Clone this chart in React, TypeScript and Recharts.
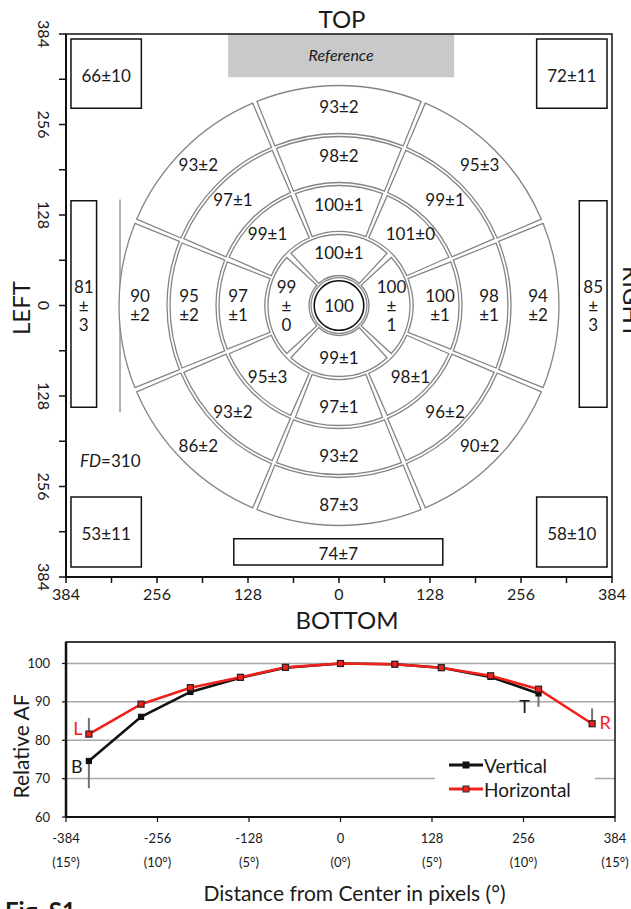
import React from "react";
import {
  ScatterChart,
  Scatter,
  XAxis,
  YAxis,
  ReferenceArea,
  ReferenceLine,
  PieChart,
  Pie,
  LineChart,
  Line,
  CartesianGrid,
  Legend,
  ErrorBar,
  LabelList,
} from "recharts";

const FONT = "Lato, 'Open Sans', sans-serif";
const INK = "#1a1a1a";
const RED = "#f0201a";

// ─── Map panel data ──────────────────────────────────────────────────────────

const mapTicks = [-384, -320, -256, -192, -128, -64, 0, 64, 128, 192, 256, 320, 384];

// sector labels, counter-clockwise starting at the top
const ring1Labels = ["100±1", "99\n±\n0", "99±1", "100\n±\n1"];
const ring2Labels = ["100±1", "99±1", "97\n±1", "95±3", "97±1", "98±1", "100\n±1", "101±0"];
const ring3Labels = ["98±2", "97±1", "95\n±2", "93±2", "93±2", "96±2", "98\n±1", "99±1"];
const ring4Labels = ["93±2", "93±2", "90\n±2", "86±2", "87±3", "90±2", "94\n±2", "95±3"];
const centerLabel = "100";

// outer zones (map units, pixels from center)
const boxLabels = ["66±10", "72±11", "53±11", "58±10", "81\n±\n3", "85\n±\n3", "74±7"];
const boxX = [[-377, -278], [278, 377], [-377, -278], [278, 377], [-377, -341], [338, 377], [-148, 146]];
const boxY = [[279, 377], [279, 377], [-370, -271], [-370, -271], [-144, 148], [-144, 148], [-367, -330]];
const referenceX = [-156, 162];
const referenceY = [323, 384];
const fdBarX = -308;
const fdBarY = [-151, 150];
const fdTickX = -277;

// ─── Profile panel data ──────────────────────────────────────────────────────

const distTicks = [-384, -256, -128, 0, 128, 256, 384];
const degLabels = ["(15°)", "(10°)", "(5°)", "(0°)", "(5°)", "(10°)", "(15°)"];
const afTicks = [60, 70, 80, 90, 100];
const seriesNames = ["Vertical", "Horizontal"];
const pointDist = [-352, -279, -210, -140, -77, 0, 76, 141, 210, 277, 352];
const vertical = [74.6, 86.1, 92.6, 96.3, 98.9, 100, 99.8, 98.9, 96.5, 92.2, null];
const horizontal = [81.6, 89.4, 93.7, 96.4, 99.0, 100, 99.8, 98.9, 96.8, 93.3, 84.3];
const verticalErr = [[7.1, 0], null, null, null, null, null, null, null, null, [3.5, 0], null];
const horizontalErr = [[0, 4.2], null, null, null, null, null, null, null, null, null, [0, 4]];
const verticalTags = ["B", "", "", "", "", "", "", "", "", "T", ""];
const horizontalTags = ["L", "", "", "", "", "", "", "", "", "", "R"];

const profileData = pointDist.map((d, i) => ({
  d,
  v: vertical[i],
  h: horizontal[i],
  ve: verticalErr[i],
  he: horizontalErr[i],
  vt: verticalTags[i],
  ht: horizontalTags[i],
}));

// ─── Helpers ─────────────────────────────────────────────────────────────────

function MultiText({ x, y, text, size = 17, lh = 19, italic = false }: any) {
  const lines = String(text).split("\n");
  const y0 = y - ((lines.length - 1) * lh) / 2;
  return (
    <text textAnchor="middle" fontSize={size} fill={INK} fontStyle={italic ? "italic" : "normal"}>
      {lines.map((l, i) => (
        <tspan key={i} x={x} y={y0 + i * lh} dy="0.36em">
          {l}
        </tspan>
      ))}
    </text>
  );
}

const ringData = (labels: string[]) => labels.map((name) => ({ name, value: 1 }));

const ringLabel = (labels: string[], shift: number) => (p: any) => {
  const r = (p.innerRadius + p.outerRadius) / 2 + shift;
  const a = (-p.midAngle * Math.PI) / 180;
  return (
    <MultiText
      key={`l-${p.index}`}
      x={p.cx + r * Math.cos(a)}
      y={p.cy + r * Math.sin(a)}
      text={labels[p.index]}
    />
  );
};

const boxLabel = (text: string, dy = 0, italic = false, size = 17) => (p: any) => {
  const vb = p.viewBox;
  return <MultiText x={vb.x + vb.width / 2} y={vb.y + vb.height / 2 + dy} text={text} italic={italic} size={size} />;
};

const mapTick = (v: number) => (v % 128 === 0 ? String(Math.abs(v)) : "");

function RotTick(p: any) {
  const bx = p.x - 19;
  const t = mapTick(p.payload.value);
  return (
    <text x={bx} y={p.y} transform={`rotate(90 ${bx} ${p.y})`} textAnchor="middle" fontSize={16} fill={INK}>
      {t}
    </text>
  );
}

function DistTick(p: any) {
  const i = distTicks.indexOf(p.payload.value);
  return (
    <g>
      <text x={p.x} y={p.y + 14} dy="0.36em" textAnchor="middle" fontSize={13} fill={INK}>
        {p.payload.value}
      </text>
      <text x={p.x} y={p.y + 38} dy="0.36em" textAnchor="middle" fontSize={13} fill={INK}>
        {degLabels[i]}
      </text>
    </g>
  );
}

const squareDot = (fill: string, stroke: string, size: number) => (p: any) => {
  if (p.value == null || p.cy == null || isNaN(p.cy)) return <g key={`d-${p.index}`} />;
  return (
    <rect
      key={`d-${p.index}`}
      x={p.cx - size / 2}
      y={p.cy - size / 2}
      width={size}
      height={size}
      fill={fill}
      stroke={stroke}
      strokeWidth={1.2}
    />
  );
};

const tagOffset: Record<string, [number, number]> = { L: [-11, -6], B: [-12, 6], T: [-14, 13], R: [13, -1] };

function TagLabel(p: any) {
  if (!p.value) return null;
  const [dx, dy] = tagOffset[p.value];
  const col = p.value === "L" || p.value === "R" ? RED : INK;
  return (
    <text x={p.x + dx} y={p.y + dy} dy="0.36em" textAnchor="middle" fontSize={18} fill={col}>
      {p.value}
    </text>
  );
}

function LegendBox(props: any) {
  const items = [...(props.payload || [])].sort(
    (a: any, b: any) => seriesNames.indexOf(a.value) - seriesNames.indexOf(b.value)
  );
  return (
    <div style={{ background: "#fff", padding: "2px 4px 4px 14px", fontFamily: FONT }}>
      {items.map((it: any) => (
        <div key={it.value} style={{ display: "flex", alignItems: "center", height: 24 }}>
          <svg width={34} height={10}>
            <line x1={0} x2={34} y1={5} y2={5} stroke={it.color} strokeWidth={3} />
            <rect
              x={14}
              y={2}
              width={6}
              height={6}
              fill={it.color}
              stroke={it.value === "Horizontal" ? "#333" : it.color}
              strokeWidth={1}
            />
          </svg>
          <span style={{ fontSize: 19, color: INK, marginLeft: 1 }}>{it.value}</span>
        </div>
      ))}
    </div>
  );
}

function Title({ text, x, y, rot = 0, size = 24, bold = false }: any) {
  return (
    <div
      style={{
        position: "absolute",
        left: x,
        top: y,
        transform: `translate(-50%, -50%) rotate(${rot}deg)`,
        fontSize: size,
        lineHeight: 1,
        whiteSpace: "nowrap",
        color: INK,
        fontWeight: bold ? 700 : 400,
      }}
    >
      {text}
    </div>
  );
}

// ─── App ─────────────────────────────────────────────────────────────────────

export default function App() {
  return (
    <div
      style={{
        position: "fixed",
        left: 0,
        top: 0,
        width: 631,
        height: 909,
        overflow: "hidden",
        background: "#fff",
        fontFamily: FONT,
      }}
    >
      {/* map panel: axes and outer zones */}
      <div style={{ position: "absolute", left: 0, top: 0 }}>
        <ScatterChart width={631} height={630} margin={{ top: 34, right: 19, bottom: 3, left: 16 }}>
          <XAxis
            type="number"
            dataKey="x"
            domain={[-384, 384]}
            ticks={mapTicks}
            interval={0}
            tickFormatter={mapTick}
            height={50}
            tickSize={6}
            tickMargin={6}
            axisLine={{ stroke: "#111", strokeWidth: 2 }}
            tickLine={{ stroke: "#111", strokeWidth: 1.5 }}
            tick={{ fontSize: 16, fill: INK }}
          />
          <YAxis
            type="number"
            dataKey="y"
            domain={[-384, 384]}
            ticks={mapTicks}
            interval={0}
            width={50}
            tickSize={7}
            axisLine={{ stroke: "#111", strokeWidth: 2 }}
            tickLine={{ stroke: "#111", strokeWidth: 1.5 }}
            tick={<RotTick />}
          />
          <ReferenceArea
            x1={referenceX[0]}
            x2={referenceX[1]}
            y1={referenceY[0]}
            y2={referenceY[1]}
            fill="#c9c9c9"
            fillOpacity={1}
            stroke="none"
            label={boxLabel("Reference", 0, true, 16)}
          />
          <ReferenceArea x1={-384} x2={384} y1={-384} y2={384} fill="none" stroke="#111" strokeWidth={1.5} />
          {boxLabels.map((t, i) => (
            <ReferenceArea
              key={i}
              x1={boxX[i][0]}
              x2={boxX[i][1]}
              y1={boxY[i][0]}
              y2={boxY[i][1]}
              fill="#fff"
              fillOpacity={1}
              stroke="#111"
              strokeWidth={1.5}
              label={boxLabel(t, 2)}
            />
          ))}
          <ReferenceLine
            segment={[
              { x: fdBarX, y: fdBarY[0] },
              { x: fdBarX, y: fdBarY[1] },
            ]}
            stroke="#9a9a9a"
            strokeWidth={1.5}
          />
          <ReferenceLine
            segment={[
              { x: fdBarX, y: 0 },
              { x: fdTickX, y: 0 },
            ]}
            stroke="#9a9a9a"
            strokeWidth={1.5}
          />
          <Scatter data={[{ x: 0, y: 0 }]} shape={() => <g />} isAnimationActive={false} />
        </ScatterChart>
      </div>

      {/* map panel: concentric sectors */}
      <div style={{ position: "absolute", left: 66, top: 34, pointerEvents: "none" }}>
        <PieChart width={546} height={543} margin={{ top: 0, right: 0, bottom: 0, left: 0 }}>
          <Pie
            data={ringData(ring4Labels)}
            dataKey="value"
            cx="50%"
            cy="50%"
            innerRadius={172}
            outerRadius={220}
            startAngle={67.5 + 0.6}
            endAngle={67.5 + 0.6 + 360}
            paddingAngle={1.2}
            fill="#fff"
            stroke="#858585"
            strokeWidth={1.3}
            label={ringLabel(ring4Labels, 3)}
            labelLine={false}
            isAnimationActive={false}
          />
          <Pie
            data={ringData(ring3Labels)}
            dataKey="value"
            cx="50%"
            cy="50%"
            innerRadius={123}
            outerRadius={169}
            startAngle={67.5 + 0.8}
            endAngle={67.5 + 0.8 + 360}
            paddingAngle={1.6}
            fill="#fff"
            stroke="#858585"
            strokeWidth={1.3}
            label={ringLabel(ring3Labels, 4)}
            labelLine={false}
            isAnimationActive={false}
          />
          <Pie
            data={ringData(ring2Labels)}
            dataKey="value"
            cx="50%"
            cy="50%"
            innerRadius={74}
            outerRadius={120}
            startAngle={67.5 + 1.2}
            endAngle={67.5 + 1.2 + 360}
            paddingAngle={2.4}
            fill="#fff"
            stroke="#858585"
            strokeWidth={1.3}
            label={ringLabel(ring2Labels, 4)}
            labelLine={false}
            isAnimationActive={false}
          />
          <Pie
            data={ringData(ring1Labels)}
            dataKey="value"
            cx="50%"
            cy="50%"
            innerRadius={30}
            outerRadius={71}
            startAngle={45 + 2.4}
            endAngle={45 + 2.4 + 360}
            paddingAngle={4.8}
            fill="#fff"
            stroke="#858585"
            strokeWidth={1.3}
            label={ringLabel(ring1Labels, 2)}
            labelLine={false}
            isAnimationActive={false}
          />
          <Pie
            data={[{ name: "c", value: 1 }]}
            dataKey="value"
            cx="50%"
            cy="50%"
            innerRadius={27.3}
            outerRadius={28.6}
            fill="#8a8a8a"
            stroke="none"
            isAnimationActive={false}
          />
          <Pie
            data={[{ name: "center", value: 1 }]}
            dataKey="value"
            cx="50%"
            cy="50%"
            innerRadius={24}
            outerRadius={25.6}
            fill="#111"
            stroke="none"
            label={(p: any) => <MultiText key="c" x={p.cx} y={p.cy} text={centerLabel} />}
            labelLine={false}
            isAnimationActive={false}
          />
        </PieChart>
      </div>

      <Title text="TOP" x={342} y={19} />
      <Title text="BOTTOM" x={347} y={620} />
      <Title text="LEFT" x={21} y={308} rot={-90} />
      <Title text="RIGHT" x={632} y={302} rot={90} />
      <div style={{ position: "absolute", left: 80, top: 452, fontSize: 17, color: INK, lineHeight: 1 }}>
        <i>FD</i>=310
      </div>

      {/* profile panel */}
      <div style={{ position: "absolute", left: 0, top: 630 }}>
        <LineChart width={631} height={279} data={profileData} margin={{ top: 12, right: 16, bottom: 0, left: 16 }}>
          <CartesianGrid vertical={false} stroke="#a8a8a8" strokeWidth={1.5} />
          <XAxis
            type="number"
            dataKey="d"
            domain={[-384, 384]}
            ticks={distTicks}
            interval={0}
            height={92}
            tickSize={5}
            tickMargin={2}
            axisLine={{ stroke: "#111", strokeWidth: 2 }}
            tickLine={{ stroke: "#111", strokeWidth: 1.2 }}
            tick={<DistTick />}
            label={(p: any) => (
              <text
                x={p.viewBox.x + p.viewBox.width / 2 + 14}
                y={p.viewBox.y + 84}
                textAnchor="middle"
                fontSize={21}
                fill={INK}
              >
                Distance from Center in pixels (°)
              </text>
            )}
          />
          <YAxis
            type="number"
            domain={[60, 105.6]}
            ticks={afTicks}
            interval={0}
            width={50}
            tickSize={4}
            tickMargin={12}
            axisLine={{ stroke: "#111", strokeWidth: 2.5 }}
            tickLine={{ stroke: "#111", strokeWidth: 1.2 }}
            tick={{ fontSize: 13, fill: INK }}
            label={(p: any) => {
              const x = p.viewBox.x + 13;
              const y = p.viewBox.y + p.viewBox.height / 2 + 17;
              return (
                <text x={x} y={y} transform={`rotate(-90 ${x} ${y})`} textAnchor="middle" fontSize={21} fill={INK}>
                  Relative AF
                </text>
              );
            }}
          />
          <ReferenceArea x1={-384} x2={384} y1={60} y2={105.6} fill="none" stroke="#111" strokeWidth={1.5} />
          <Legend
            layout="horizontal"
            verticalAlign="middle"
            align="center"
            content={<LegendBox />}
            wrapperStyle={{ left: 435, top: 121, width: 160 }}
          />
          <Line
            name="Vertical"
            dataKey="v"
            stroke="#111"
            strokeWidth={2.6}
            dot={squareDot("#111", "#111", 5)}
            activeDot={false}
            isAnimationActive={false}
          >
            <ErrorBar dataKey="ve" width={0} stroke="#707070" strokeWidth={2} direction="y" isAnimationActive={false} />
            <LabelList dataKey="vt" content={<TagLabel />} />
          </Line>
          <Line
            name="Horizontal"
            dataKey="h"
            stroke={RED}
            strokeWidth={2.6}
            dot={squareDot(RED, "#222", 6)}
            activeDot={false}
            isAnimationActive={false}
          >
            <ErrorBar dataKey="he" width={0} stroke="#707070" strokeWidth={2} direction="y" isAnimationActive={false} />
            <LabelList dataKey="ht" content={<TagLabel />} />
          </Line>
        </LineChart>
      </div>

      <div
        style={{ position: "absolute", left: 5, top: 899, fontSize: 24, fontWeight: 700, lineHeight: "24px", color: INK }}
      >
        Fig. S1
      </div>
    </div>
  );
}
